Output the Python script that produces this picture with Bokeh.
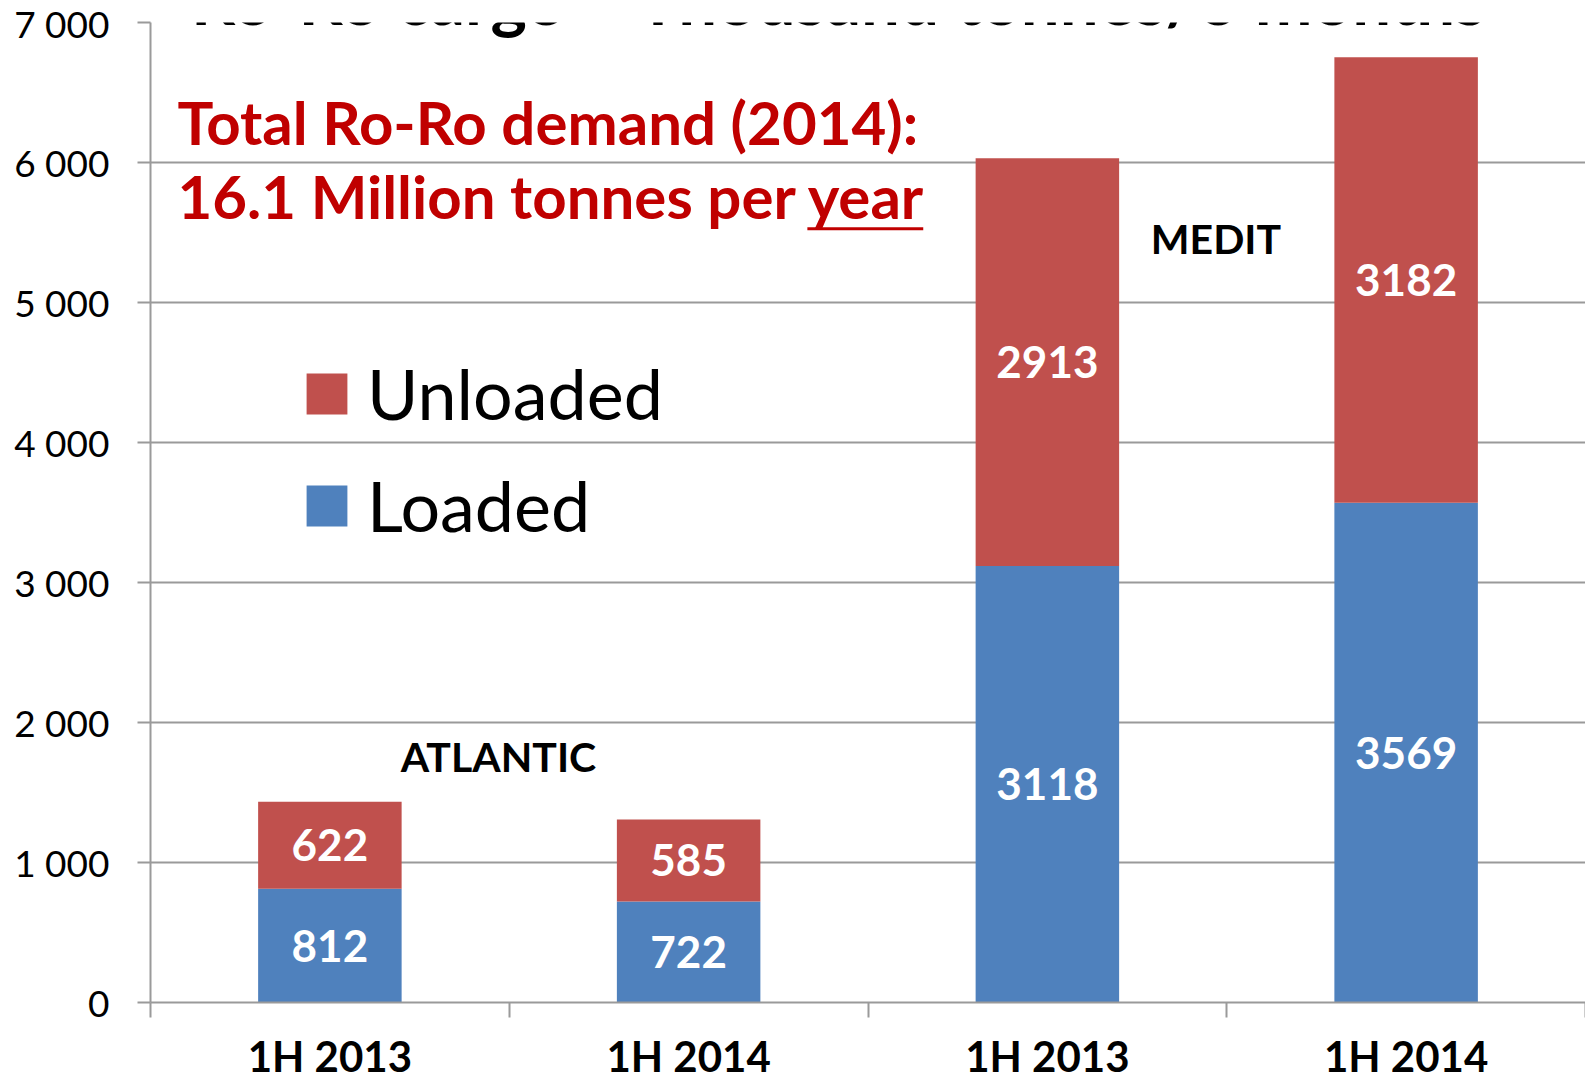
from bokeh.plotting import figure
from bokeh.models import (Range1d, FixedTicker, Label, Legend, LegendItem,
                          ColumnDataSource)
from bokeh.embed import file_html
from bokeh.resources import INLINE
from bokeh.core.properties import value

# ---- data ----
periods = ["1H 2013", "1H 2014", "1H 2013", "1H 2014"]
regions = ["ATLANTIC", "ATLANTIC", "MEDIT", "MEDIT"]
loaded = [812, 722, 3118, 3569]
unloaded = [622, 585, 2913, 3182]
y_ticks = [0, 1000, 2000, 3000, 4000, 5000, 6000, 7000]
y_tick_labels = ["0", "1 000", "2 000", "3 000", "4 000", "5 000", "6 000", "7 000"]
region_names = ["ATLANTIC", "MEDIT"]
region_label_y = [1759, 5459]

title_text = "Ro-Ro cargo \u2013 Thousand tonnes/6 months"
note_line1 = "Total Ro-Ro demand (2014):"
note_line2 = "16.1 Million tonnes per year"

BLUE = "#4F81BD"
RED = "#C0504D"
NOTE_RED = "#C00000"
GRID = "#9a9a9a"
FONT = "Lato"

n = len(periods)
xs = [i + 0.5 for i in range(n)]
bounds = list(range(n + 1))
totals = [l + u for l, u in zip(loaded, unloaded)]

src = ColumnDataSource(dict(
    x=xs,
    loaded=loaded,
    unloaded=unloaded,
    total=totals,
    loaded_mid=[l / 2 for l in loaded],
    unloaded_mid=[l + u / 2 for l, u in zip(loaded, unloaded)],
    loaded_txt=[str(v) for v in loaded],
    unloaded_txt=[str(v) for v in unloaded],
))

p = figure(width=1585, height=1084,
           x_range=Range1d(0, n), y_range=Range1d(0, 7000),
           output_backend="svg", toolbar_location=None,
           min_border_left=150, min_border_right=0,
           min_border_top=22, min_border_bottom=82)
p.outline_line_color = None
p.background_fill_color = "white"
p.border_fill_color = "white"

r_load = p.vbar(x="x", width=0.4, bottom=0, top="loaded", source=src,
                fill_color=BLUE, line_color=None)
r_unl = p.vbar(x="x", width=0.4, bottom="loaded", top="total", source=src,
               fill_color=RED, line_color=None)

for col, txt in (("loaded_mid", "loaded_txt"), ("unloaded_mid", "unloaded_txt")):
    p.text(x="x", y=col, text=txt, source=src, text_align="center",
           text_baseline="middle", text_color="white",
           text_font=value(FONT), text_font_style="bold", text_font_size="44px")

# region labels, centred over each pair of bars
for name, ly in zip(region_names, region_label_y):
    idx = [i for i, r in enumerate(regions) if r == name]
    cx = sum(xs[i] for i in idx) / len(idx)
    p.add_layout(Label(x=cx - 0.03, y=ly, text=name, text_align="center",
                       text_baseline="alphabetic", text_color="black",
                       text_font=FONT, text_font_style="bold",
                       text_font_size="41px"))

# title (partly cut off at top, as in reference)
p.add_layout(Label(x=1.92, y=7175, text=title_text, text_align="center",
                   text_baseline="alphabetic", text_color="black",
                   text_font=FONT, text_font_style="bold",
                   text_font_size="69px"))

# red note
p.add_layout(Label(x=0.075, y=6291, text=note_line1, text_align="left",
                   text_baseline="alphabetic", text_color=NOTE_RED,
                   text_font=FONT, text_font_style="bold",
                   text_font_size="60px"))
p.add_layout(Label(x=0.075, y=5759, text=note_line2, text_align="left",
                   text_baseline="alphabetic", text_color=NOTE_RED,
                   text_font=FONT, text_font_style="bold",
                   text_font_size="60px"))
p.segment(x0=[1.831], y0=[5527], x1=[2.154], y1=[5527],
          line_color=NOTE_RED, line_width=3)

# axes
p.xaxis.ticker = FixedTicker(ticks=xs, minor_ticks=bounds)
p.xaxis.major_label_overrides = {x: per for x, per in zip(xs, periods)}
p.xaxis.major_tick_line_color = None
p.xaxis.major_tick_out = 0
p.xaxis.major_tick_in = 0
p.xaxis.minor_tick_out = 15
p.xaxis.minor_tick_in = 0
p.xaxis.minor_tick_line_color = GRID
p.xaxis.minor_tick_line_width = 2
p.xaxis.axis_line_color = GRID
p.xaxis.axis_line_width = 2
p.xaxis.major_label_text_font = FONT
p.xaxis.major_label_text_font_style = "bold"
p.xaxis.major_label_text_font_size = "42px"
p.xaxis.major_label_text_color = "black"
p.xaxis.major_label_standoff = 13

p.yaxis.ticker = FixedTicker(ticks=y_ticks)
p.yaxis.major_label_overrides = {t: l for t, l in zip(y_ticks, y_tick_labels)}
p.yaxis.major_tick_out = 13
p.yaxis.major_tick_in = 0
p.yaxis.major_tick_line_color = GRID
p.yaxis.major_tick_line_width = 2
p.yaxis.minor_tick_line_color = None
p.yaxis.axis_line_color = GRID
p.yaxis.axis_line_width = 2
p.yaxis.major_label_text_font = FONT
p.yaxis.major_label_text_font_size = "37px"
p.yaxis.major_label_text_color = "black"
p.yaxis.major_label_standoff = 28

p.xgrid.visible = False
p.ygrid.ticker = FixedTicker(ticks=y_ticks)
p.ygrid.grid_line_color = GRID
p.ygrid.grid_line_width = 2

legend = Legend(items=[LegendItem(label="Unloaded", renderers=[r_unl]),
                       LegendItem(label="Loaded", renderers=[r_load])],
                location=(151, 455), glyph_width=51, glyph_height=51,
                label_text_font=FONT, label_text_font_size="70px",
                label_text_color="black", label_standoff=15, spacing=28,
                padding=0, margin=0, border_line_color=None,
                background_fill_alpha=0)
p.add_layout(legend)

open("out.html", "w").write(file_html(p, INLINE))
